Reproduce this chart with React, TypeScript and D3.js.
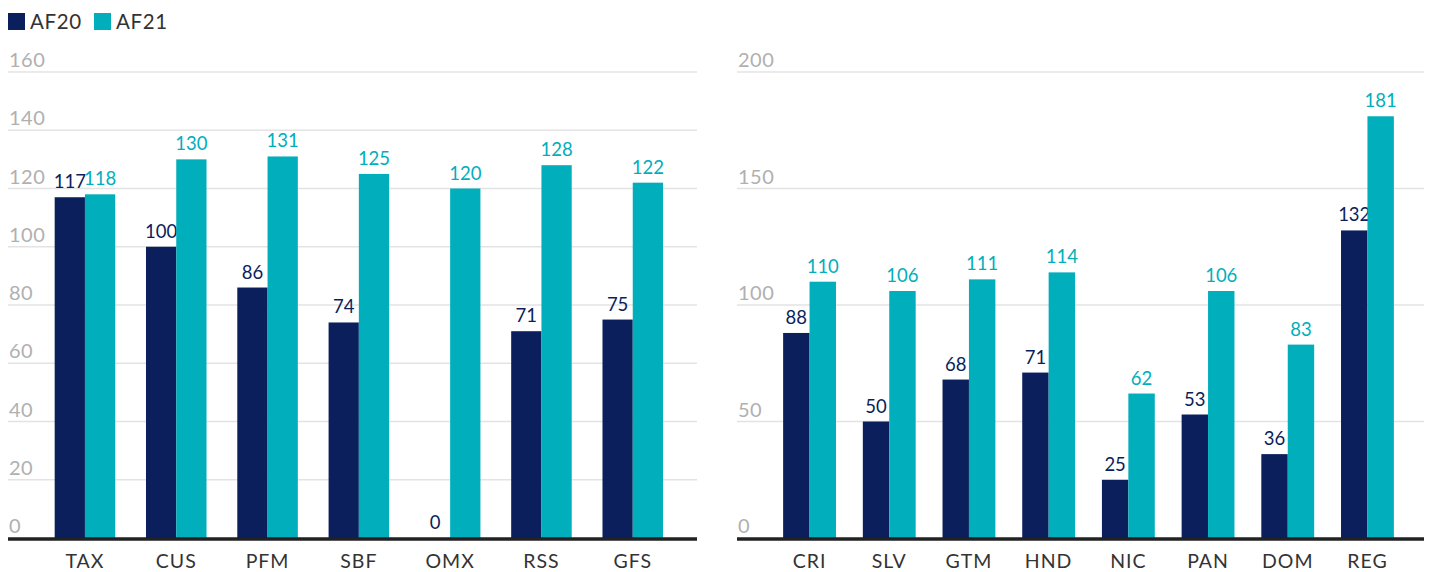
import React from "react";
import * as d3 from "d3";

const leftCategories = ["TAX", "CUS", "PFM", "SBF", "OMX", "RSS", "GFS"];
const leftAF20 = [117, 100, 86, 74, 0, 71, 75];
const leftAF21 = [118, 130, 131, 125, 120, 128, 122];
const leftTicks = [0, 20, 40, 60, 80, 100, 120, 140, 160];

const rightCategories = ["CRI", "SLV", "GTM", "HND", "NIC", "PAN", "DOM", "REG"];
const rightAF20 = [88, 50, 68, 71, 25, 53, 36, 132];
const rightAF21 = [110, 106, 111, 114, 62, 106, 83, 181];
const rightTicks = [0, 50, 100, 150, 200];

const seriesNames = ["AF20", "AF21"];
const NAVY = "#0a1f5c";
const TEAL = "#00aebc";
const colors = [NAVY, TEAL];
const FONT = "Lato, 'Noto Sans', sans-serif";

type PanelProps = {
  categories: string[];
  a: number[];
  b: number[];
  ticks: number[];
  gridX0: number;
  gridX1: number;
  bandX0: number;
  bandX1: number;
};

const Y0 = 538;
const YTOP = 72;

function Panel({ categories, a, b, ticks, gridX0, gridX1, bandX0, bandX1 }: PanelProps) {
  const maxT = ticks[ticks.length - 1];
  const y = d3.scaleLinear().domain([0, maxT]).range([Y0, YTOP]);
  const p = 0.337;
  const x = d3.scaleBand<string>().domain(categories).range([bandX0, bandX1]).paddingInner(p).paddingOuter(p / 2);
  const inner = d3.scaleBand<string>().domain(seriesNames).range([0, x.bandwidth()]);
  const series = [a, b];
  return (
    <g>
      {ticks.map((t) => (
        <g key={t}>
          {t > 0 && (
            <line x1={gridX0} x2={gridX1} y1={y(t)} y2={y(t)} stroke="#e3e3e3" strokeWidth={1.5} />
          )}
          <text x={gridX0 + 1} y={y(t) - 5} fill="#b0b0b0" fontSize={20} fontFamily={FONT} letterSpacing={0.5}>
            {t}
          </text>
        </g>
      ))}
      {categories.map((c, i) => (
        <g key={c}>
          {series.map((s, j) => {
            const bx = (x(c) ?? 0) + (inner(seriesNames[j]) ?? 0);
            const bw = inner.bandwidth();
            const v = s[i];
            return (
              <g key={j}>
                <rect x={bx} y={y(v)} width={bw} height={Y0 - y(v)} fill={colors[j]} />
                <text
                  x={bx + bw / 2}
                  y={y(v) - 9}
                  textAnchor="middle"
                  fill={colors[j]}
                  fontSize={18.5}
                  fontFamily={FONT}
                >
                  {v}
                </text>
              </g>
            );
          })}
          <text
            x={(x(c) ?? 0) + x.bandwidth() / 2}
            y={568}
            textAnchor="middle"
            fill="#333"
            fontSize={19.5}
            fontFamily={FONT}
            letterSpacing={1}
          >
            {c}
          </text>
        </g>
      ))}
      <line x1={gridX0} x2={gridX1} y1={Y0 + 1} y2={Y0 + 1} stroke="#222" strokeWidth={3.5} />
    </g>
  );
}

export default function App() {
  return (
    <svg width={1432} height={572} style={{ position: "absolute", left: 0, top: 0 }}>
      <rect width={1432} height={572} fill="#fff" />
      <g>
        {seriesNames.map((n, i) => (
          <g key={n} transform={`translate(${8 + i * 86},13)`}>
            <rect width={17} height={17} fill={colors[i]} />
            <text x={22} y={16} fill="#333" fontSize={20.5} fontFamily={FONT} letterSpacing={0.6}>
              {n}
            </text>
          </g>
        ))}
      </g>
      <Panel
        categories={leftCategories}
        a={leftAF20}
        b={leftAF21}
        ticks={leftTicks}
        gridX0={8}
        gridX1={697}
        bandX0={39.3}
        bandX1={678.4}
      />
      <Panel
        categories={rightCategories}
        a={rightAF20}
        b={rightAF21}
        ticks={rightTicks}
        gridX0={737}
        gridX1={1424}
        bandX0={769.7}
        bandX1={1407.3}
      />
    </svg>
  );
}
